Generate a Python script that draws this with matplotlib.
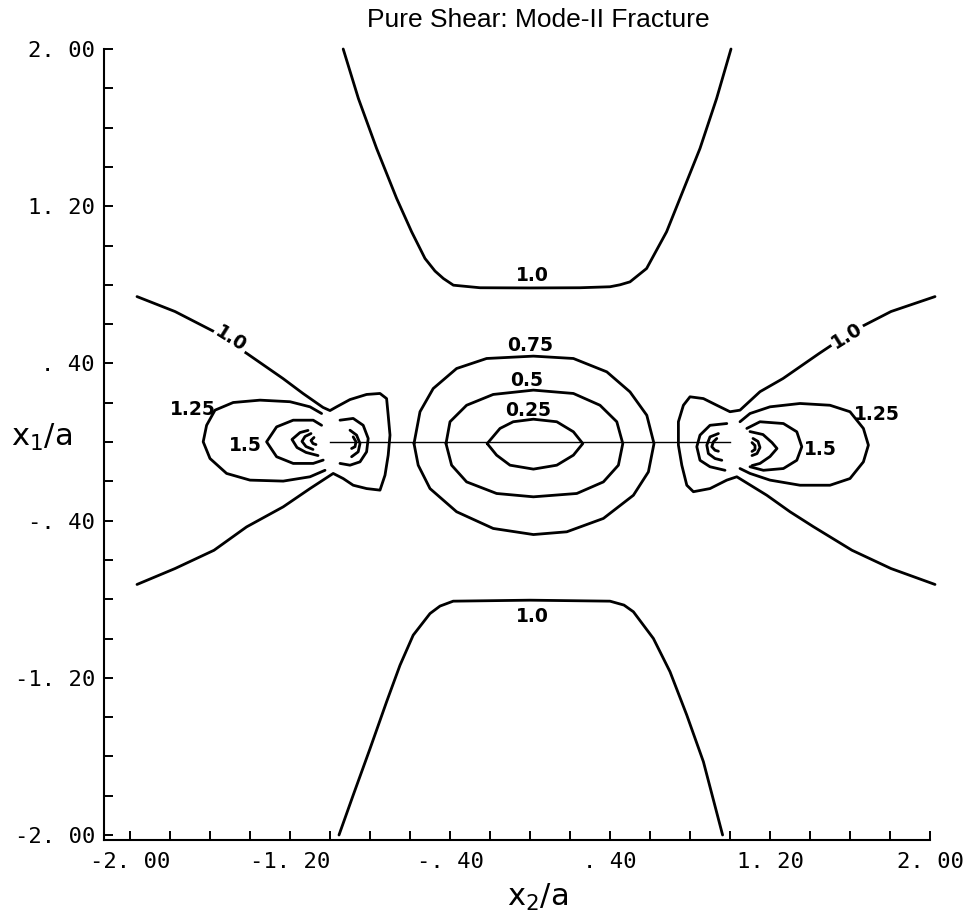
# contour map of the normalised stress around a mode-II crack (pure shear)
import numpy as np
import matplotlib
matplotlib.use("Agg")
from matplotlib import pyplot as plt

# crack faces along x1 = 0
crack_x = [-1.0, 1.0]
crack_y = [0.0, 0.0]

# level 1.0, upper trough
top_x = [-0.934, -0.858, -0.767, -0.667, -0.592, -0.525, -0.475, -0.433, -0.383, -0.25,
         0.0, 0.25, 0.40, 0.45, 0.50, 0.583, 0.683, 0.75, 0.85, 0.933, 1.005]
top_y = [2.0, 1.748, 1.494, 1.240, 1.070, 0.934, 0.870, 0.832, 0.798, 0.785,
         0.784, 0.785, 0.790, 0.800, 0.815, 0.883, 1.070, 1.240, 1.494, 1.748, 2.0]

# level 1.0, lower trough
bot_x = [-0.955, -0.884, -0.80, -0.717, -0.65, -0.584, -0.50, -0.45, -0.384,
         0.0, 0.40, 0.47, 0.517, 0.617, 0.70, 0.784, 0.867, 0.963]
bot_y = [-2.0, -1.797, -1.561, -1.322, -1.136, -0.983, -0.873, -0.835, -0.810,
         -0.805, -0.810, -0.830, -0.864, -1.0, -1.169, -1.390, -1.627, -2.0]

# level 1.0, left wing wrapping the left tip
left_x = [-1.965, -1.775, -1.58, -1.415, -1.235, -1.135, -1.035, -1.0, -0.967, -0.90,
          -0.817, -0.75, -0.717, -0.709, -0.70, -0.709, -0.725, -0.75, -0.817, -0.884,
          -0.934, -0.984, -1.10, -1.234, -1.417, -1.58, -1.775, -1.965]
left_y = [0.740, 0.664, 0.562, 0.450, 0.323, 0.247, 0.176, 0.160, 0.179, 0.216,
          0.242, 0.247, 0.221, 0.136, 0.035, -0.067, -0.169, -0.245, -0.237, -0.220,
          -0.186, -0.160, -0.237, -0.330, -0.432, -0.551, -0.644, -0.725]

# level 1.0, right wing wrapping the right tip
right_x = [2.025, 1.805, 1.61, 1.445, 1.265, 1.15, 1.05, 1.0, 0.934, 0.867, 0.80,
           0.767, 0.742, 0.742, 0.759, 0.784, 0.817, 0.90, 0.984, 1.034, 1.184, 1.30,
           1.417, 1.61, 1.805, 2.025]
right_y = [0.740, 0.664, 0.562, 0.450, 0.323, 0.256, 0.162, 0.154, 0.187, 0.221, 0.230,
           0.187, 0.103, -0.016, -0.118, -0.220, -0.253, -0.237, -0.194, -0.177, -0.271,
           -0.355, -0.431, -0.551, -0.644, -0.725]

# level 1.25 lobes
c125_left_x = [-1.042, -1.10, -1.20, -1.35, -1.484, -1.575, -1.617, -1.634, -1.60,
               -1.517, -1.40, -1.234, -1.10, -1.025]
c125_left_y = [0.145, 0.179, 0.205, 0.213, 0.201, 0.162, 0.085, 0.001, -0.084,
               -0.160, -0.194, -0.199, -0.177, -0.144]
c125_right_x = [1.05, 1.10, 1.20, 1.35, 1.50, 1.60, 1.667, 1.692, 1.667, 1.60,
                1.50, 1.35, 1.20, 1.10, 1.05]
c125_right_y = [0.103, 0.145, 0.179, 0.196, 0.187, 0.154, 0.069, -0.016, -0.101, -0.186,
                -0.220, -0.220, -0.194, -0.160, -0.135]

# level 1.5 lobes
c15_left_x = [-1.042, -1.084, -1.184, -1.267, -1.317, -1.267, -1.184, -1.084, -1.034]
c15_left_y = [0.085, 0.111, 0.111, 0.077, 0.001, -0.075, -0.109, -0.109, -0.092]
c15_right_x = [1.084, 1.15, 1.267, 1.334, 1.359, 1.334, 1.267, 1.167, 1.10]
c15_right_y = [0.069, 0.103, 0.094, 0.052, -0.024, -0.093, -0.135, -0.144, -0.126]

# crowded levels next to each crack tip (ahead of and behind the tip)
tip_ahead_left_x = [[-1.11, -1.15, -1.19, -1.165, -1.12, -1.06],
                    [-1.095, -1.125, -1.14, -1.12, -1.085],
                    [-1.08, -1.095, -1.085, -1.07]]
tip_ahead_left_y = [[0.059, 0.048, 0.013, -0.028, -0.053, -0.069],
                    [0.043, 0.028, 0.003, -0.023, -0.038],
                    [0.023, 0.008, -0.008, -0.013]]
tip_behind_left_x = [[-0.95, -0.884, -0.834, -0.809, -0.817, -0.85, -0.90, -0.95],
                     [-0.90, -0.867, -0.85, -0.859, -0.892],
                     [-0.884, -0.87, -0.875, -0.892]]
tip_behind_left_y = [[0.111, 0.120, 0.085, 0.018, -0.050, -0.101, -0.118, -0.109],
                     [0.060, 0.035, -0.008, -0.050, -0.075],
                     [0.026, 0.001, -0.024, -0.033]]
tip_ahead_right_x = [[1.10, 1.165, 1.21, 1.235, 1.20, 1.15, 1.11],
                     [1.115, 1.14, 1.15, 1.135, 1.11],
                     [1.11, 1.125, 1.125, 1.11]]
tip_ahead_right_y = [[0.053, 0.038, -0.003, -0.033, -0.074, -0.109, -0.120],
                     [0.018, 0.003, -0.028, -0.059, -0.069],
                     [-0.003, -0.018, -0.038, -0.048]]
tip_behind_right_x = [[0.984, 0.90, 0.85, 0.834, 0.85, 0.90, 0.975],
                      [0.942, 0.90, 0.884, 0.892, 0.925, 0.959],
                      [0.934, 0.917, 0.909, 0.925, 0.942]]
tip_behind_right_y = [[0.094, 0.085, 0.035, -0.024, -0.093, -0.126, -0.144],
                      [0.043, 0.026, -0.016, -0.059, -0.084, -0.093],
                      [0.018, 0.001, -0.024, -0.042, -0.047]]

# closed levels around the crack centre
c075_x = [-0.58, -0.55, -0.484, -0.367, -0.217, 0.017, 0.217, 0.384, 0.50, 0.584, 0.62,
          0.592, 0.517, 0.367, 0.184, 0.017, -0.184, -0.367, -0.50, -0.559]
c075_y = [-0.008, 0.154, 0.272, 0.374, 0.425, 0.437, 0.425, 0.357, 0.255, 0.136, -0.008,
          -0.152, -0.271, -0.389, -0.457, -0.471, -0.440, -0.355, -0.237, -0.118]
c050_x = [-0.42, -0.40, -0.317, -0.184, 0.017, 0.217, 0.35, 0.434, 0.464, 0.442,
          0.367, 0.234, 0.017, -0.167, -0.317, -0.392]
c050_y = [-0.008, 0.103, 0.187, 0.242, 0.264, 0.247, 0.187, 0.103, -0.008, -0.118,
          -0.203, -0.262, -0.279, -0.262, -0.203, -0.118]
c025_x = [-0.214, -0.15, -0.084, 0.017, 0.134, 0.217, 0.264, 0.217, 0.134, 0.017, -0.10, -0.167]
c025_y = [-0.008, 0.069, 0.103, 0.116, 0.103, 0.052, -0.008, -0.067, -0.118, -0.138, -0.118, -0.067]

# contour labels
level_text = ["1.0", "1.0", "1.0", "1.0", "0.75", "0.5", "0.25", "1.25", "1.5", "1.25", "1.5"]

tick_pos = [-2.0, -1.2, -0.4, 0.4, 1.2, 2.0]
tick_text = ["-2. 00", "-1. 20", "-. 40", ". 40", "1. 20", "2. 00"]

LW = 2.0


def draw_line(ax, x, y, closed=False):
    x = list(x)
    y = list(y)
    if closed:
        x.append(x[0])
        y.append(y[0])
    ax.plot(x, y, color="black", lw=LW, solid_joinstyle="round",
            solid_capstyle="round", clip_on=False, zorder=2)


fig = plt.figure(figsize=(9.65, 9.13), dpi=100)
ax = fig.add_axes([130 / 965, 78 / 913, 800 / 965, 786 / 913])
ax.set_xlim(-2.0, 2.0)
ax.set_ylim(-2.0, 2.0)

# crack
ax.plot(crack_x, crack_y, color="black", lw=1.0)

# level lines
for x, y in [(top_x, top_y), (bot_x, bot_y), (left_x, left_y), (right_x, right_y),
             (c125_left_x, c125_left_y), (c125_right_x, c125_right_y),
             (c15_left_x, c15_left_y), (c15_right_x, c15_right_y)]:
    draw_line(ax, x, y)
for xs, ys in [(tip_ahead_left_x, tip_ahead_left_y), (tip_behind_left_x, tip_behind_left_y),
               (tip_ahead_right_x, tip_ahead_right_y), (tip_behind_right_x, tip_behind_right_y)]:
    for x, y in zip(xs, ys):
        draw_line(ax, x, y)
for x, y in [(c075_x, c075_y), (c050_x, c050_y), (c025_x, c025_y)]:
    draw_line(ax, x, y, closed=True)

# label placement: (x, y, rotation, inline)
label_pos = [(0.01, 0.845, 0, False), (0.01, -0.886, 0, False),
             (-1.495, 0.524, -32, True), (1.585, 0.542, 32, True),
             (0.0, 0.493, 0, False), (-0.017, 0.315, 0, False), (-0.008, 0.162, 0, False),
             (-1.684, 0.166, 0, False), (-1.421, -0.020, 0, False),
             (1.734, 0.141, 0, False), (1.45, -0.037, 0, False)]
for txt, (lx, ly, rot, inline) in zip(level_text, label_pos):
    box = dict(facecolor="white", edgecolor="none", pad=1.5) if inline else None
    ax.text(lx, ly, txt, ha="center", va="center", rotation=rot, rotation_mode="anchor",
            fontsize=13.5, fontweight="bold", family="DejaVu Sans", bbox=box, zorder=3)

# axes: only left and bottom, drawn slightly apart like the plotter frame
for side in ["top", "right"]:
    ax.spines[side].set_visible(False)
ax.spines["left"].set_position(("outward", 26 * 0.72))
ax.spines["bottom"].set_position(("outward", 5 * 0.72))
ax.spines["left"].set_bounds(-2.025, 2.0)
ax.spines["bottom"].set_bounds(-2.13, 2.0)
for side in ["left", "bottom"]:
    ax.spines[side].set_linewidth(1.5)

minor = np.arange(-2.0, 2.001, 0.2)
ax.set_xticks(tick_pos)
ax.set_xticklabels(tick_text)
ax.set_yticks(tick_pos)
ax.set_yticklabels(tick_text)
ax.set_xticks(minor, minor=True)
ax.set_yticks(minor, minor=True)
ax.tick_params(which="both", direction="in", length=6.5, width=1.4)
ax.tick_params(axis="x", which="major", pad=8.5)
ax.tick_params(axis="y", which="major", pad=6.5)
for lab in ax.get_xticklabels() + ax.get_yticklabels():
    lab.set_family("DejaVu Sans Mono")
    lab.set_fontsize(16)

ax.set_xlabel("x$_2$/a", fontsize=22, va="center")
ax.set_ylabel("x$_1$/a", fontsize=22, rotation=0, ha="center", va="center")
ax.xaxis.set_label_coords(0.509, -0.080)
ax.yaxis.set_label_coords(-0.11, 0.506)

fig.text(538 / 965, 1 - 20 / 913, "Pure Shear: Mode-II Fracture", ha="center", va="center",
         fontsize=19, family="Liberation Sans")

fig.savefig("out.png", dpi=100, facecolor="white")
